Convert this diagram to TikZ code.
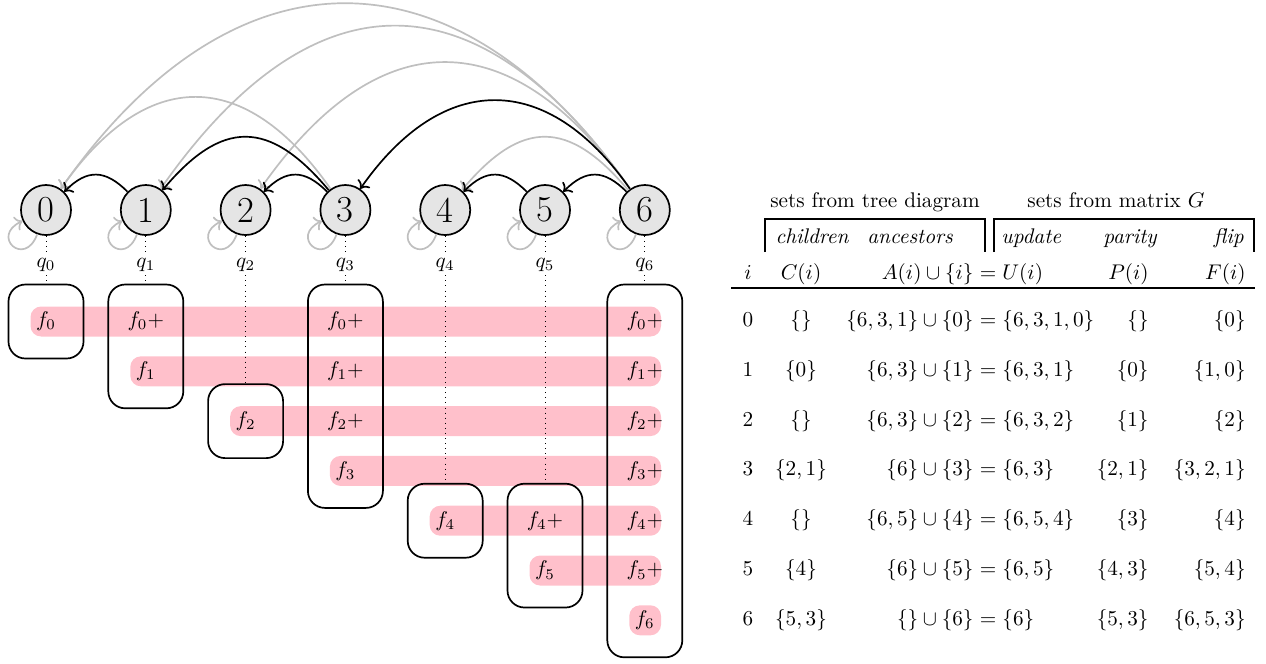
\documentclass[tikz,border=0pt]{standalone}
\usetikzlibrary{arrows.meta}
\definecolor{barpink}{HTML}{FFC0CB}
\definecolor{vtxfill}{gray}{0.9}
\definecolor{arcgray}{gray}{0.75}
% column / row positions of the qubit grid
\newcommand\colx[1]{46+99.8*#1}
\newcommand\rowy[1]{321.5+49.8*#1}
\tikzset{
  vtx/.style={circle, draw, thick, fill=vtxfill, minimum size=23.6pt, inner sep=0pt, font=\LARGE},
  treearc/.style={->, thick},
  matarc/.style={->, thick, draw=arcgray},
  selfloop/.style={->, thick, draw=arcgray, min distance=17pt},
  qlab/.style={inner sep=1.5pt},
  guide/.style={dotted},
  fbarfill/.style={fill=barpink, rounded corners=5pt},
  grp/.style={draw, thick, rounded corners=8pt},
  ftext/.style={inner sep=0pt},
  cellc/.style={anchor=base, inner sep=0pt},
  celle/.style={anchor=base east, inner sep=0pt},
  cellw/.style={anchor=base west, inner sep=0pt},
  bracketline/.style={line width=0.9pt},
}
% one pink bar starting at column #1 and running to the last column
\newcommand\fbar[1]{\fill[fbarfill] ({\colx{#1}-15.5},{\rowy{#1}-15}) rectangle (661,{\rowy{#1}+15});}
% a label f in column #2, row #3
\newcommand\flab[4]{\node[ftext] (#1) at ({\colx{#2}},{\rowy{#3}}) {$#4$};}
% rounded group box in column #1 from row #2 to row #3
\newcommand\grpbox[3]{%
  \draw[grp] ({\colx{#1}-37.5},{\rowy{#2}-37}) rectangle ({\colx{#1}+37.5},{\rowy{#3}+37});
  \coordinate (g#1) at ({\colx{#1}},{\rowy{#2}-37});}
% one row of the table
\newcommand\tabrow[6]{%
  \node[cellc] (ti#1) at (748,{\rowy{#1}+5}) {$#1$};
  \node[cellc] (tc#1) at (801,{\rowy{#1}+5}) {$#2$};
  \node[celle] (ta#1) at (974,{\rowy{#1}+5}) {$#3$};
  \node[cellc] (teq#1) at (988,{\rowy{#1}+5}) {$=$};
  \node[cellw] (tu#1) at (1002,{\rowy{#1}+5}) {$#4$};
  \node[celle] (tp#1) at (1149,{\rowy{#1}+5}) {$#5$};
  \node[celle] (tf#1) at (1246,{\rowy{#1}+5}) {$#6$};}
\begin{document}
\begin{tikzpicture}[x=0.4717pt,y=-0.4717pt]
\useasboundingbox (0,0) rectangle (1266,663);

% tree vertices and their labels q_k
\foreach \k in {0,...,6} {
  \node[vtx] (n\k) at ({\colx{\k}},210) {\k};
  \node[qlab] (q\k) at ({\colx{\k}},265) {$q_{\k}$};
  \draw[selfloop] (n\k) to[out=250,in=205] (n\k);
}

% edges of the matrix G (grey) and of the tree (black)
\draw[matarc] (n3) to[out=125,in=55,looseness=1.42] (n0);
\draw[matarc] (n6) to[out=125,in=55,looseness=1.36] (n0);
\draw[matarc] (n6) to[out=125,in=55,looseness=1.45] (n1);
\draw[matarc] (n6) to[out=125,in=55,looseness=1.43] (n2);
\draw[matarc] (n6) to[out=130,in=50,looseness=1.43] (n4);
\draw[treearc] (n1) to[out=135,in=45,looseness=1.3] (n0);
\draw[treearc] (n3) to[out=135,in=45,looseness=1.3] (n2);
\draw[treearc] (n5) to[out=135,in=45,looseness=1.3] (n4);
\draw[treearc] (n6) to[out=135,in=45,looseness=1.3] (n5);
\draw[treearc] (n3) to[out=130,in=50,looseness=1.43] (n1);
\draw[treearc] (n6) to[out=125,in=55,looseness=1.37] (n3);

% pink bars
\foreach \k in {0,...,6} {\fbar{\k}}

% group boxes
\grpbox{0}{0}{0}
\grpbox{1}{0}{1}
\grpbox{2}{2}{2}
\grpbox{3}{0}{3}
\grpbox{4}{4}{4}
\grpbox{5}{4}{5}
\grpbox{6}{0}{6}

% dotted guides from each vertex down to its box
\foreach \k in {0,...,6} {
  \draw[guide] (n\k) -- (q\k);
  \draw[guide] (q\k) -- (g\k);
}

% labels in the bars
\flab{f00}{0}{0}{f_0}
\flab{f01}{1}{0}{f_0+}
\flab{f03}{3}{0}{f_0+}
\flab{f06}{6}{0}{f_0+}
\flab{f11}{1}{1}{f_1}
\flab{f13}{3}{1}{f_1+}
\flab{f16}{6}{1}{f_1+}
\flab{f22}{2}{2}{f_2}
\flab{f23}{3}{2}{f_2+}
\flab{f26}{6}{2}{f_2+}
\flab{f33}{3}{3}{f_3}
\flab{f36}{6}{3}{f_3+}
\flab{f44}{4}{4}{f_4}
\flab{f45}{5}{4}{f_4+}
\flab{f46}{6}{4}{f_4+}
\flab{f55}{5}{5}{f_5}
\flab{f56}{6}{5}{f_5+}
\flab{f66}{6}{6}{f_6}

% table: group titles and brackets
\node[cellc] (ttree) at (875,207) {sets from tree diagram};
\node[cellc] (tmat) at (1116,207) {sets from matrix $G$};
\draw[bracketline] (765,252) -- (765,219) -- (985,219) -- (985,252);
\draw[bracketline] (994,252) -- (994,219) -- (1254,219) -- (1254,252);
\node[cellc] (hch) at (812,243) {\itshape children};
\node[cellc] (han) at (910,243) {\itshape ancestors};
\node[cellw] (hup) at (1001,243) {\itshape update};
\node[cellc] (hpa) at (1130,243) {\itshape parity};
\node[celle] (hfl) at (1244,243) {\itshape flip};
% column heads
\node[cellc] (hi) at (748,279) {$i$};
\node[cellc] (hc) at (801,279) {$C(i)$};
\node[celle] (ha) at (974,279) {$A(i)\cup\{i\}$};
\node[cellc] (heq) at (988,279) {$=$};
\node[cellw] (hu) at (1002,279) {$U(i)$};
\node[celle] (hp) at (1149,279) {$P(i)$};
\node[celle] (hf) at (1246,279) {$F(i)$};
\draw[line width=0.8pt] (731,288) -- (1255,288);
% rows
\tabrow{0}{\{\}}{\{6,3,1\}\cup\{0\}}{\{6,3,1,0\}}{\{\}}{\{0\}}
\tabrow{1}{\{0\}}{\{6,3\}\cup\{1\}}{\{6,3,1\}}{\{0\}}{\{1,0\}}
\tabrow{2}{\{\}}{\{6,3\}\cup\{2\}}{\{6,3,2\}}{\{1\}}{\{2\}}
\tabrow{3}{\{2,1\}}{\{6\}\cup\{3\}}{\{6,3\}}{\{2,1\}}{\{3,2,1\}}
\tabrow{4}{\{\}}{\{6,5\}\cup\{4\}}{\{6,5,4\}}{\{3\}}{\{4\}}
\tabrow{5}{\{4\}}{\{6\}\cup\{5\}}{\{6,5\}}{\{4,3\}}{\{5,4\}}
\tabrow{6}{\{5,3\}}{\{\}\cup\{6\}}{\{6\}}{\{5,3\}}{\{6,5,3\}}
\end{tikzpicture}
\end{document}
